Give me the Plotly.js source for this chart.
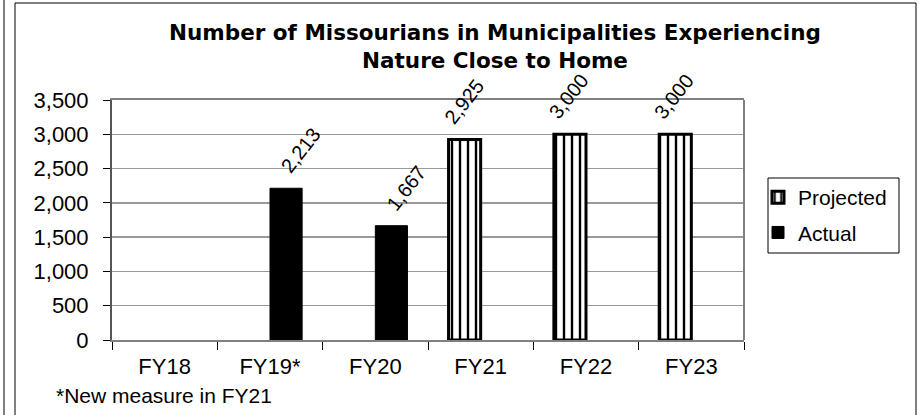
<!DOCTYPE html>
<html>
<head>
<meta charset="utf-8">
<script src="https://cdn.plot.ly/plotly-3.0.1.min.js"></script>
<style>html,body{margin:0;padding:0;background:#fff;}#chart{width:920px;height:415px;}</style>
</head>
<body>
<div id="chart"></div>
<script>
const categories = ["FY18", "FY19*", "FY20", "FY21", "FY22", "FY23"];
const projected = [null, null, null, 2925, 3000, 3000];
const actual = [null, 2213, 1667, null, null, null];
const yTicks = [0, 500, 1000, 1500, 2000, 2500, 3000, 3500];
const titleText = "Number of Missourians in Municipalities Experiencing<br>Nature Close to Home";
const footnote = "*New measure in FY21";

const W = 920, H = 415;
const M = {l: 112, r: 176, t: 100, b: 75};
const PW = W - M.l - M.r, PH = H - M.t - M.b;
const px = x => (x - M.l) / PW;
const py = y => (H - M.b - y) / PH;
const FONT = "Arial, 'Liberation Sans', sans-serif";
const TFONT = "'DejaVu Sans', Arial, sans-serif";

const labelFont = {family: FONT, size: 20, color: "#000"};

const traces = [
  {
    type: "bar", name: "Projected", x: categories, y: projected, legendgroup: "p",
    marker: {color: "#fff", line: {color: "#000", width: 3},
      pattern: {shape: "|", fgcolor: "#000", bgcolor: "#fff", size: 8, solidity: 0.3}},
    hoverinfo: "skip"
  },
  {
    type: "bar", name: "Actual", x: categories, y: actual, legendgroup: "a",
    marker: {color: "#000", line: {color: "#000", width: 1}},
    hoverinfo: "skip"
  }
];

function valueLabels(values, xshift) {
  const out = [];
  values.forEach((v, i) => {
    if (v == null) return;
    out.push({x: categories[i], y: v, xref: "x", yref: "y",
      text: v.toLocaleString("en-US"), textangle: -52,
      xanchor: "center", yanchor: "bottom", xshift: xshift, yshift: 10,
      showarrow: false, font: labelFont, borderpad: 0});
  });
  return out;
}

const layout = {
  width: W, height: H,
  margin: M,
  paper_bgcolor: "#fff", plot_bgcolor: "#fff",
  font: {family: FONT, size: 21, color: "#000"},
  title: {text: titleText, font: {family: TFONT, size: 21.5, color: "#000", weight: "bold"},
    x: 495 / W, xref: "container", xanchor: "center", y: 1 - 40 / H, yanchor: "middle"},
  barmode: "group", bargap: 0.39, bargroupgap: 0,
  showlegend: true,
  legend: {x: px(758), y: py(177), xanchor: "left", yanchor: "top",
    borderwidth: 0, bgcolor: "rgba(0,0,0,0)", font: {family: FONT, size: 21, color: "#000"},
    traceorder: "grouped", itemwidth: 30, tracegroupgap: 5},
  xaxis: {type: "category", categoryorder: "array", categoryarray: categories,
    showline: true, linecolor: "#808080", linewidth: 2, mirror: true,
    ticks: "outside", tickson: "boundaries", ticklen: 8, tickcolor: "#000", tickwidth: 1,
    ticklabelstandoff: 6,
    showgrid: false, tickfont: {family: FONT, size: 22, color: "#000"}, fixedrange: true},
  yaxis: {range: [0, 3500], tickvals: yTicks, ticktext: yTicks.map(v => v.toLocaleString("en-US")),
    showline: true, linecolor: "#555", linewidth: 2,
    ticks: "outside", ticklen: 7, tickcolor: "#000", tickwidth: 1,
    ticklabelstandoff: 10,
    showgrid: true, gridcolor: "#999", gridwidth: 1.5, zeroline: false,
    tickfont: {family: FONT, size: 22, color: "#000"}, fixedrange: true},
  shapes: [
    {type: "line", xref: "paper", yref: "paper", x0: 1, x1: 1, y0: 0, y1: 1,
      line: {color: "#808080", width: 2}},
    {type: "rect", xref: "paper", yref: "paper", x0: px(768), x1: px(899), y0: py(178), y1: py(253),
      line: {color: "#000", width: 1}, fillcolor: "rgba(0,0,0,0)"},
    {type: "line", xref: "paper", yref: "paper", x0: px(4), x1: px(4), y0: py(0), y1: py(H),
      line: {color: "#000", width: 1}},
    {type: "line", xref: "paper", yref: "paper", x0: px(15), x1: px(15), y0: py(3), y1: py(H),
      line: {color: "#000", width: 1}},
    {type: "line", xref: "paper", yref: "paper", x0: px(15), x1: px(916), y0: py(3), y1: py(3),
      line: {color: "#000", width: 1}},
    {type: "line", xref: "paper", yref: "paper", x0: px(916), x1: px(916), y0: py(3), y1: py(H),
      line: {color: "#000", width: 1}}
  ],
  annotations: [
    {text: footnote, xref: "paper", yref: "paper", x: px(54), y: py(395),
      xanchor: "left", yanchor: "middle", showarrow: false,
      font: {family: FONT, size: 21, color: "#000"}}
  ].concat(valueLabels(projected, -17), valueLabels(actual, 31))
};

Plotly.newPlot("chart", traces, layout, {displayModeBar: false, staticPlot: true});
</script>
</body>
</html>
